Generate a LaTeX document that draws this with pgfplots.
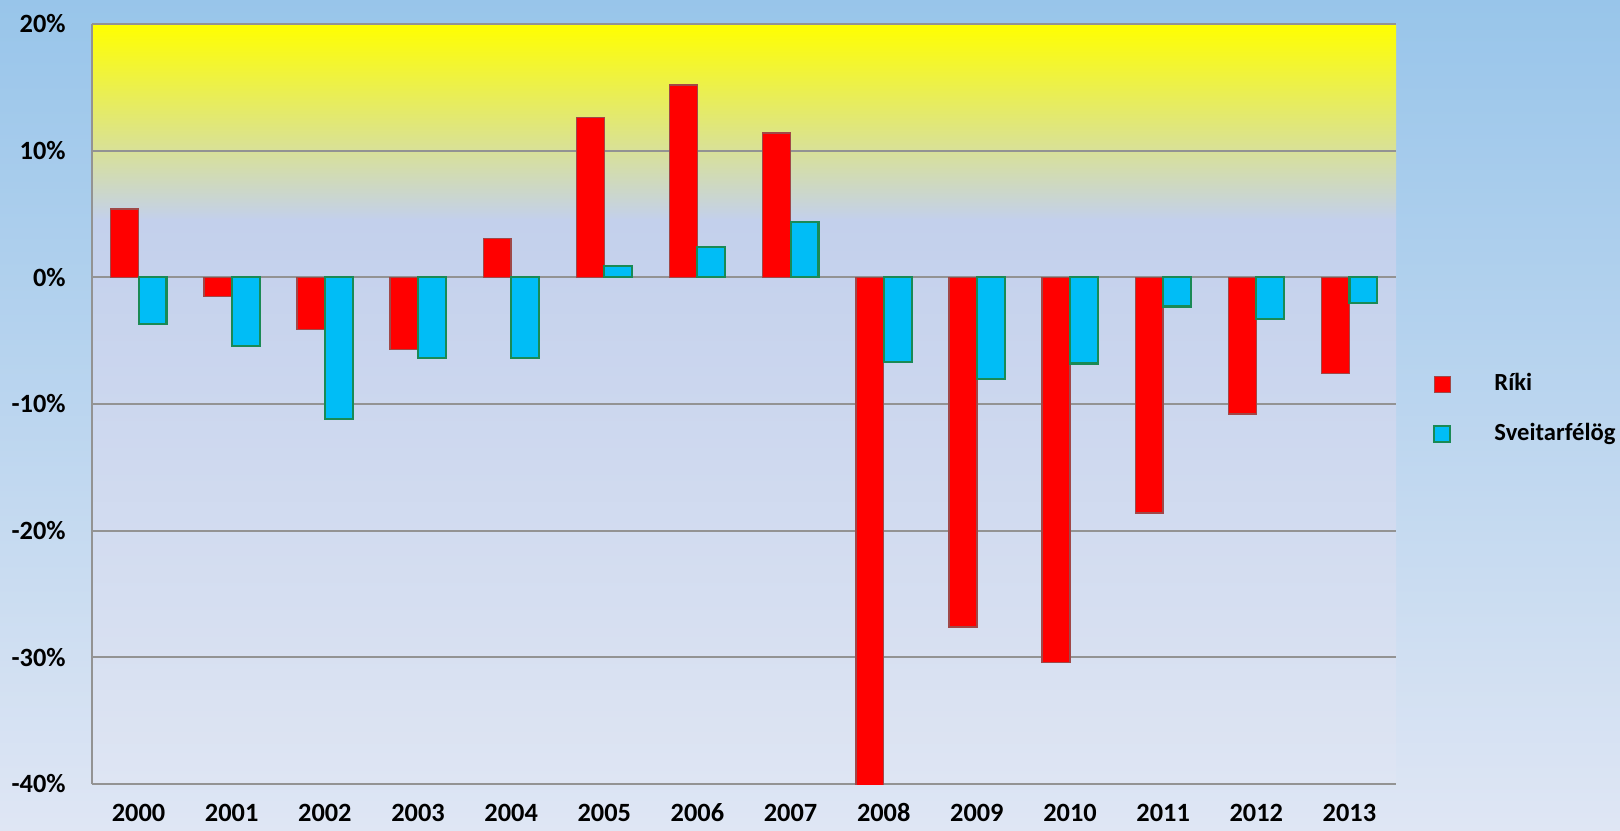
\documentclass[border=0pt]{standalone}
\usepackage{fontspec}
\setmainfont{Carlito}
\usepackage{pgfplots}
\pgfplotsset{compat=1.18}
\definecolor{bgtop}{HTML}{98C5EA}
\definecolor{bgmid}{HTML}{C4D3EE}
\definecolor{bgbot}{HTML}{DFE6F4}
\definecolor{payel}{HTML}{FFFF00}
\definecolor{paymid}{HTML}{E4E67A}
\definecolor{pablue}{HTML}{C3D0EC}
\definecolor{pabot}{HTML}{DEE5F3}
\definecolor{rikired}{HTML}{FF0000}
\definecolor{rikiedge}{HTML}{A04848}
\definecolor{sveitblue}{HTML}{00BDF6}
\definecolor{sveitedge}{HTML}{1A8A55}
\begin{document}
\begin{tikzpicture}[x=1cm,y=1cm]
\shade[top color=bgtop, middle color=bgmid, bottom color=bgbot] (0,0) rectangle (16.2,8.3);
\path[use as bounding box] (0,0) rectangle (16.2,8.3);
\shade[top color=payel, middle color=paymid, bottom color=pablue] (0.92,6.10) rectangle (13.96,8.06);
\shade[top color=pablue, bottom color=pabot] (0.92,0.46) rectangle (13.96,6.11);
\begin{axis}[
  at={(0.92cm,0.46cm)}, anchor=south west,
  scale only axis, width=13.04cm, height=7.60cm,
  ybar=0pt, bar width=2.79mm,
  xmin=-0.5, xmax=13.5, ymin=-40, ymax=20,
  xtick={0,...,13},
  xticklabels={2000,2001,2002,2003,2004,2005,2006,2007,2008,2009,2010,2011,2012,2013},
  ytick={-40,-30,-20,-10,0,10,20},
  yticklabels={-40\%,-30\%,-20\%,-10\%,0\%,10\%,20\%},
  major tick length=0pt,
  tick label style={font=\fontsize{7.5}{9}\selectfont\bfseries, text=black},
  xticklabel style={yshift=-0.9mm, text height=1.6mm, text depth=0pt},
  yticklabel style={xshift=-1.4mm},
  axis x line*=bottom, axis y line*=left,
  axis line style={draw=gray!85, line width=0.5pt, -},
  ymajorgrids, major grid style={draw=gray!85, line width=0.5pt},
  axis background/.style={fill=none},
  legend style={at={(1.020,0.493)}, anchor=west, draw=none, fill=none,
    font=\fontsize{7.0}{9}\selectfont\bfseries, row sep=1.3mm, column sep=3.8mm,
    nodes={inner xsep=0.5mm}},
  legend cell align=left,
  legend image code/.code={\filldraw[#1] (0cm,-0.08cm) rectangle (0.16cm,0.08cm);},
]
\addplot[fill=rikired, draw=rikiedge, line width=0.4pt] coordinates {
 (0,5.4) (1,-1.5) (2,-4.1) (3,-5.7) (4,3.05) (5,12.6) (6,15.2) (7,11.4)
 (8,-40.6) (9,-27.6) (10,-30.4) (11,-18.6) (12,-10.8) (13,-7.6)};
\addplot[fill=sveitblue, draw=sveitedge, line width=0.6pt] coordinates {
 (0,-3.7) (1,-5.4) (2,-11.2) (3,-6.4) (4,-6.4) (5,0.87) (6,2.4) (7,4.4)
 (8,-6.7) (9,-8.0) (10,-6.8) (11,-2.3) (12,-3.3) (13,-2.0)};
\legend{Ríki, Sveitarfélög}
\end{axis}
\end{tikzpicture}
\end{document}
